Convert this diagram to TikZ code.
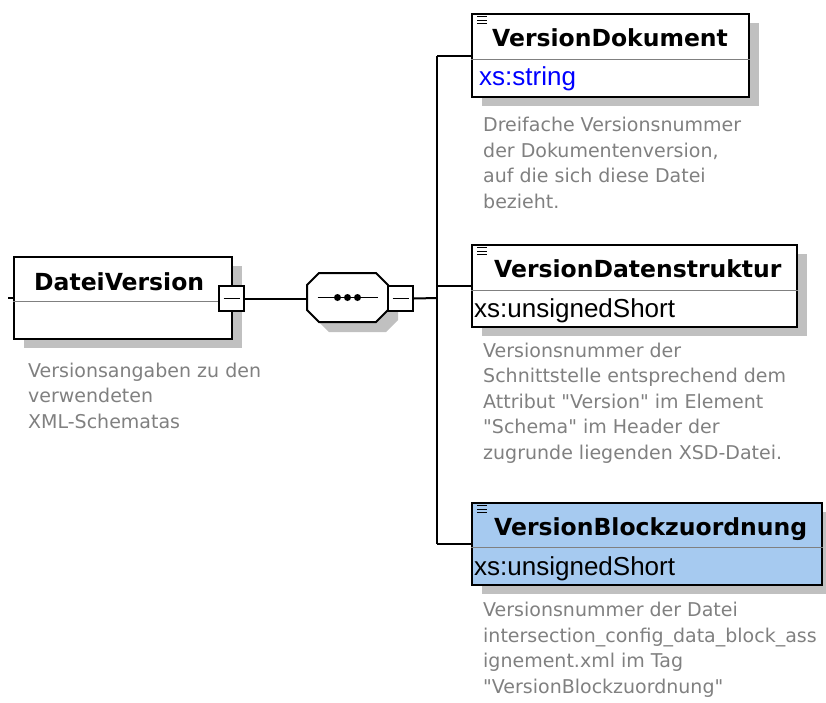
\documentclass[tikz,border=0pt]{standalone}
\usepackage{fontspec}
\setmainfont{DejaVu Sans}[Ligatures=TeXOff]
\newfontfamily\typefont{Liberation Sans}
\usetikzlibrary{shadows,calc,positioning}
\definecolor{shadowgray}{RGB}{192,192,192}
\definecolor{descgray}{RGB}{128,128,128}
\definecolor{selblue}{RGB}{166,202,240}
\definecolor{typeblue}{RGB}{0,0,255}
\newcommand\octagonpath{(-28.5,-24.5) -- (28.5,-24.5) -- (40.5,-12.5) -- (40.5,12.5) -- (28.5,24.5) -- (-28.5,24.5) -- (-40.5,12.5) -- (-40.5,-12.5) -- cycle}
\tikzset{
  elem/.style={draw=black,line width=2pt,fill=white,inner sep=0pt,
    drop shadow={shadow xshift=10pt,shadow yshift=-9pt,fill=shadowgray,opacity=1}},
  elemtitle/.style={anchor=base west,inner sep=0pt,font=\bfseries\fontsize{23.5}{23.5}\selectfont},
  elemtype/.style={anchor=base west,inner sep=0pt,font=\typefont\fontsize{26}{26}\selectfont},
  % base of a multi-line node is the baseline of its last line
  elemdesc/.style={anchor=base west,inner sep=0pt,align=left,text=descgray,font=\fontsize{19}{25.5}\selectfont},
  minusbox/.style={draw,line width=1.6pt,fill=white,minimum size=25pt,inner sep=0pt},
  conn/.style={line width=2pt},
  divider/.style={draw=descgray,line width=1pt},
}
\begin{document}
\begin{tikzpicture}[x=1pt,y=-1pt]
\useasboundingbox (0,0) rectangle (826,702);

% root element
\node[elem,minimum width=218pt,minimum height=82pt] (dv) at (123,298) {};
\draw[divider] ($(dv.north west)+(0,45)$) -- ($(dv.north east)+(0,45)$);
\node[elemtitle] (dvtitle) at (34,290) {DateiVersion};
\node[elemdesc] (dvdesc) at (28,428) {Versionsangaben zu den\\verwendeten\\XML-Schematas};
\node[minusbox] (dvminus) at (231.5,298.5) {};
\draw[line width=1.4pt] ($(dvminus.center)+(-8,0)$) -- ($(dvminus.center)+(8,0)$);
\coordinate (stub) at (8,298);
\draw[conn] (stub) -- (dv.west);

% sequence compositor
\node[minimum width=81pt,minimum height=49pt,inner sep=0pt] (seq) at (347.5,297.5) {};
\begin{scope}[shift={($(seq.center)+(10,10)$)}]
  \fill[shadowgray] \octagonpath;
\end{scope}
\begin{scope}[shift={(seq.center)}]
  \filldraw[fill=white,line width=2pt] \octagonpath;
\end{scope}
\draw[line width=1.6pt] ($(seq.center)+(-30,0)$) -- ($(seq.center)+(30,0)$);
\foreach \dx in {-10,0,10}
  \fill ($(seq.center)+(\dx,0)$) circle (3.5pt);
\node[minusbox] (seqminus) at (400.5,298.5) {};
\draw[line width=1.4pt] ($(seqminus.center)+(-8,0)$) -- ($(seqminus.center)+(8,0)$);
\draw[conn] (dvminus.east) -- (seq.west |- dvminus.east);

% child elements
\node[elem,minimum width=277pt,minimum height=83pt] (vd) at (610.5,55.5) {};
\node[elem,minimum width=325pt,minimum height=82pt] (vds) at (634.5,286) {};
\node[elem,fill=selblue,minimum width=350pt,minimum height=82pt] (vbz) at (647,544) {};
\draw[divider] ($(vd.north west)+(0,46)$) -- ($(vd.north east)+(0,46)$);
\draw[divider] ($(vds.north west)+(0,46)$) -- ($(vds.north east)+(0,46)$);
\draw[divider] ($(vbz.north west)+(0,45)$) -- ($(vbz.north east)+(0,45)$);
\foreach \n in {vd,vds,vbz}
  \foreach \dy in {3.5,7,10.5}
    \draw[line width=1pt] ($(\n.north west)+(6,\dy)$) -- ++(10,0);

\node[elemtitle] (vdtitle) at (492,46) {VersionDokument};
\node[elemtype,text=typeblue] (vdtype) at (479,85) {xs:string};
\node[elemdesc] (vddesc) at (483,208) {Dreifache Versionsnummer\\der Dokumentenversion,\\auf die sich diese Datei\\bezieht.};

\node[elemtitle] (vdstitle) at (494,277) {VersionDatenstruktur};
\node[elemtype] (vdstype) at (474,317) {xs:unsignedShort};
\node[elemdesc] (vdsdesc) at (483,459) {Versionsnummer der\\Schnittstelle entsprechend dem\\Attribut "Version" im Element\\"Schema" im Header der\\zugrunde liegenden XSD-Datei.};

\node[elemtitle] (vbztitle) at (494,535) {VersionBlockzuordnung};
\node[elemtype] (vbztype) at (474,575) {xs:unsignedShort};
\node[elemdesc] (vbzdesc) at (483,693) {Versionsnummer der Datei\\intersection\_config\_data\_block\_ass\\ignement.xml im Tag\\"VersionBlockzuordnung"};

% connectors
\coordinate (bus) at (437,298);
\draw[conn] (seqminus.east) -- (bus);
\draw[conn] (vd.west -| bus) -- (vbz.west -| bus);
\foreach \n in {vd,vds,vbz}
  \draw[conn] (\n.west -| bus) -- (\n.west);
\end{tikzpicture}
\end{document}
